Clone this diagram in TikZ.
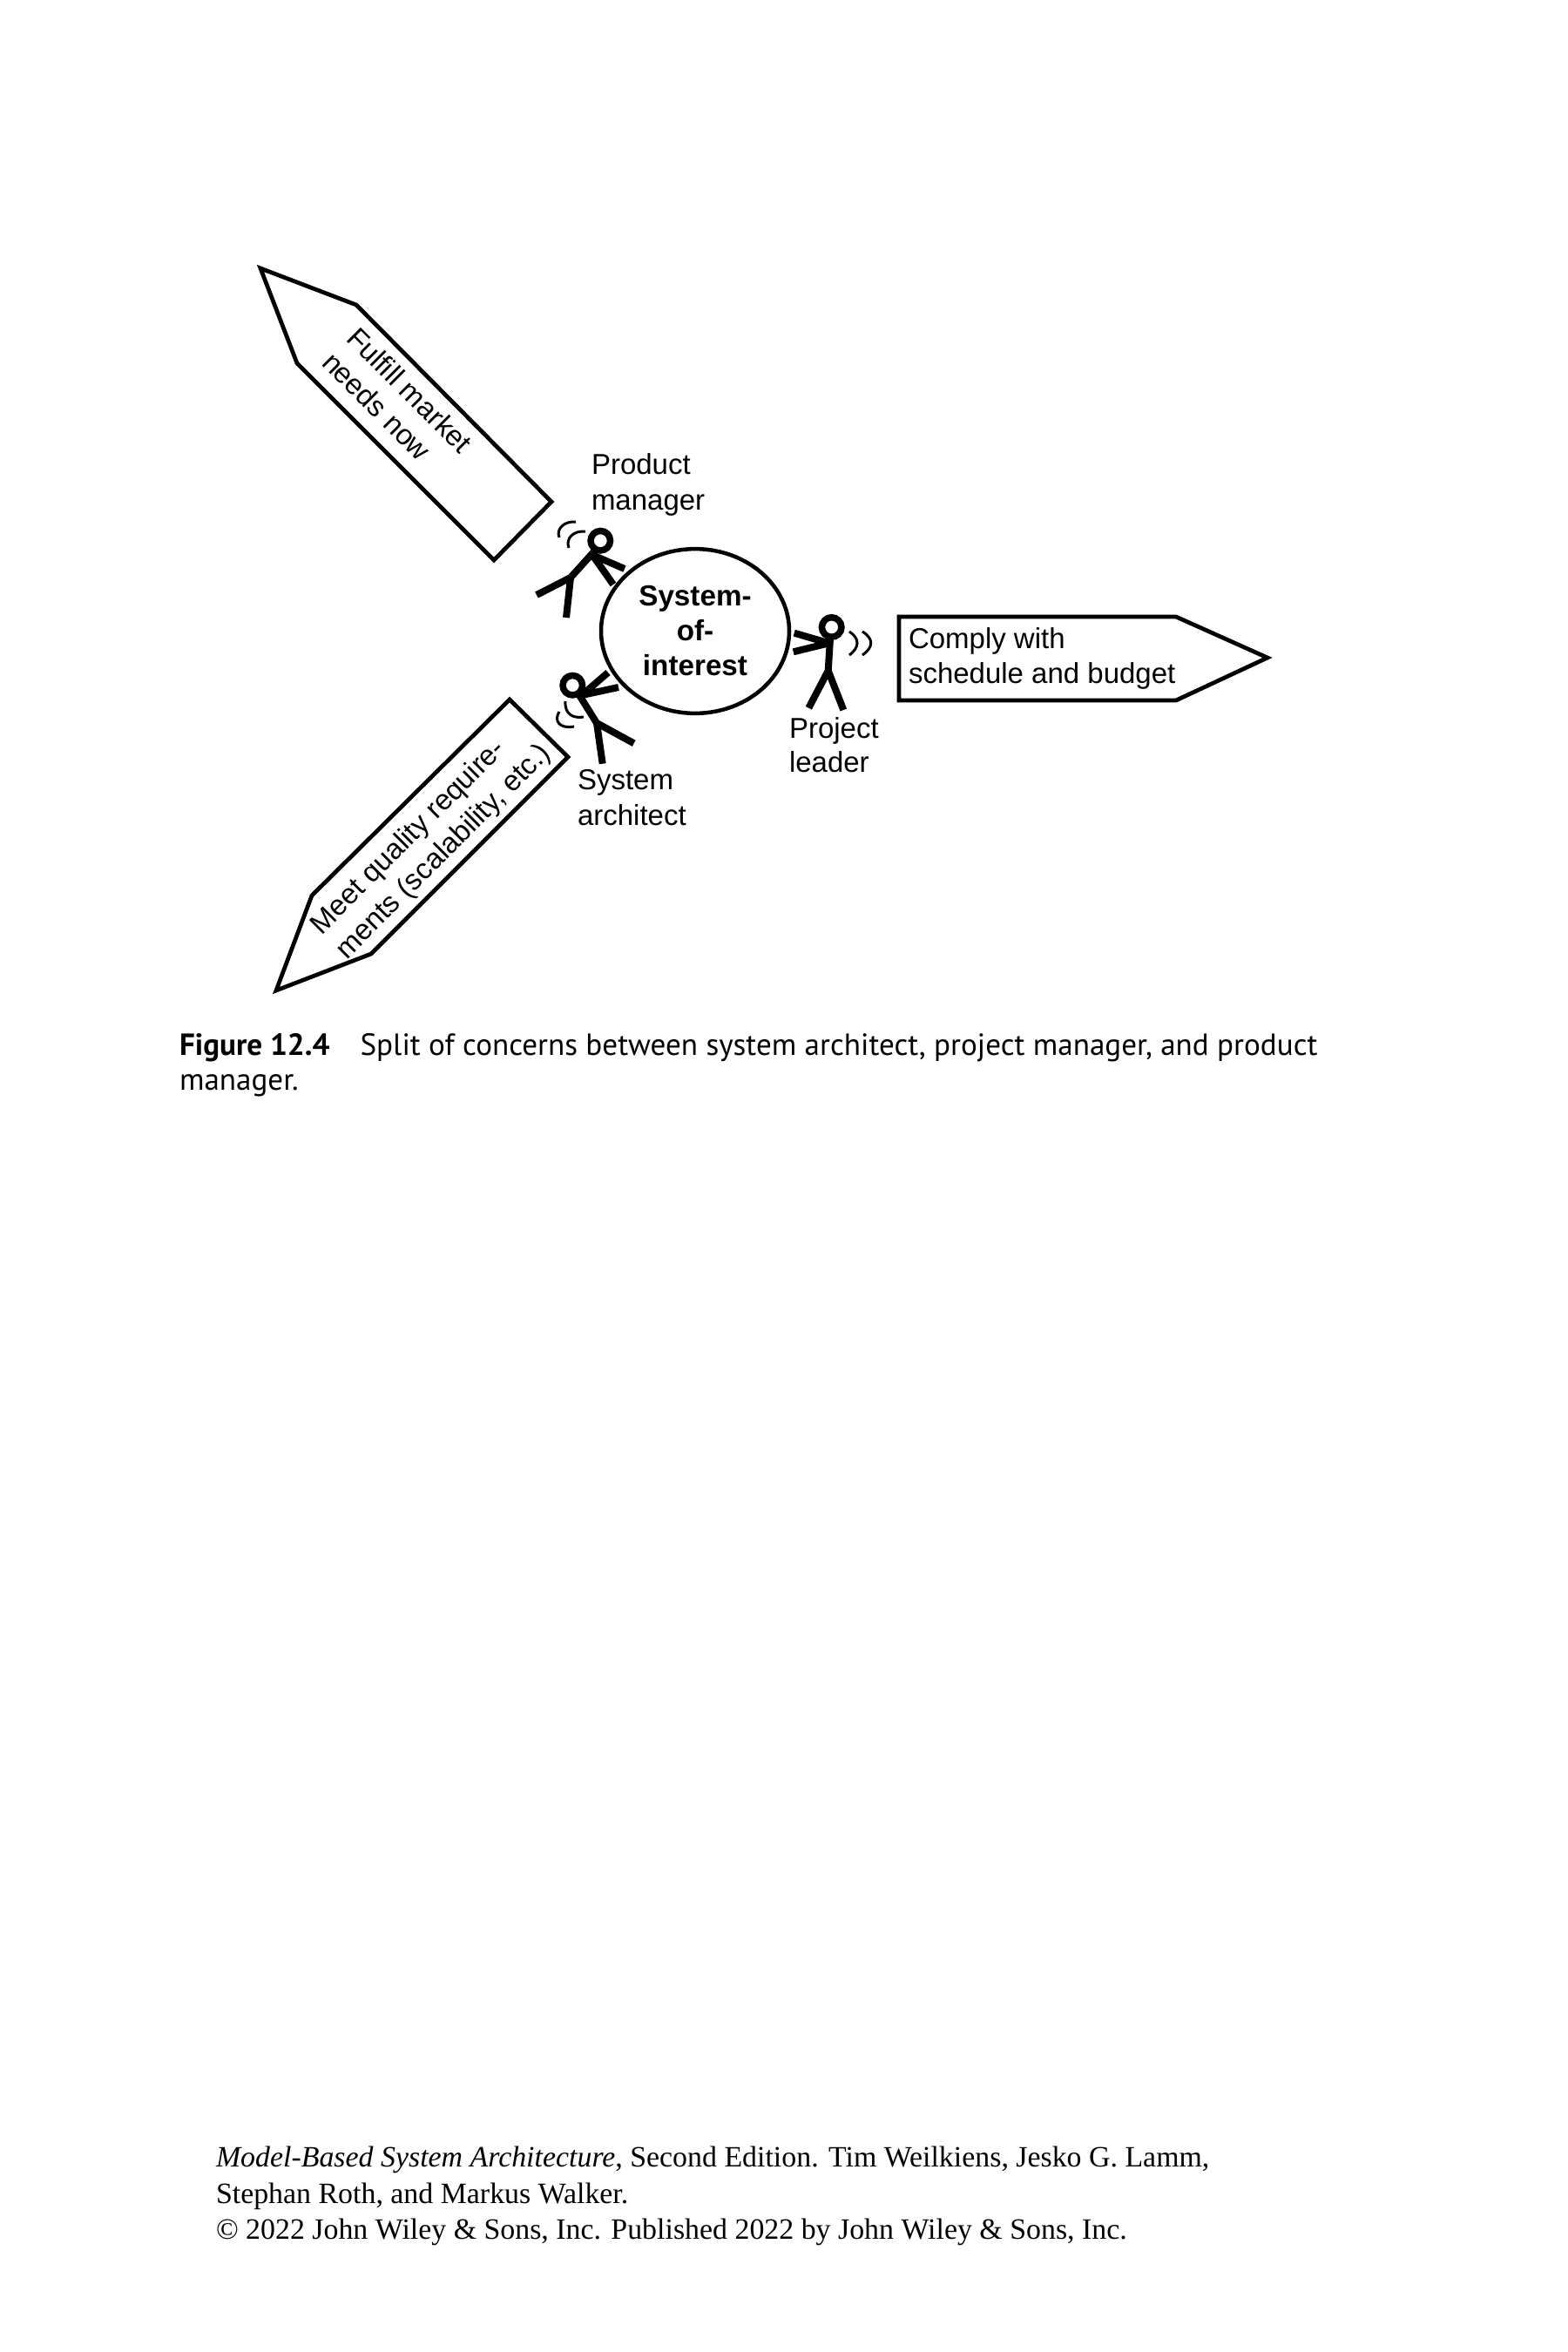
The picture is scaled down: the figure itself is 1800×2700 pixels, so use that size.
\documentclass[tikz,border=0pt]{standalone}
\usetikzlibrary{shapes.geometric}
\usepackage{fontspec}
\setmainfont{Liberation Sans}
\newfontfamily\capfont{PT Sans}
\newfontfamily\footfont{Liberation Serif}
\tikzset{
  lbl/.style={anchor=base west,inner sep=0pt,outer sep=0pt,font=\fontsize{13.2pt}{16pt}\selectfont},
  boldlbl/.style={anchor=base,inner sep=0pt,outer sep=0pt,font=\fontsize{13.3pt}{16pt}\selectfont\bfseries},
  captext/.style={anchor=base west,inner sep=0pt,outer sep=0pt,font=\fontsize{14.05pt}{16pt}\selectfont\capfont},
  foottext/.style={anchor=base west,inner sep=0pt,outer sep=0pt,font=\fontsize{13.55pt}{16pt}\selectfont\footfont},
  pen/.style={line width=1.9pt,line join=miter,draw=black},
  limb/.style={line width=3.2pt,line cap=butt,line join=round,draw=black},
  headring/.style={circle,draw=black,line width=3pt,minimum size=9pt,inner sep=0pt,outer sep=0pt},
  wave/.style={line width=1.2pt,draw=black}
}
\begin{document}
\begin{tikzpicture}[x=0.4pt,y=-0.4pt]
\useasboundingbox[fill=white] (0,0) rectangle (1800,2700);
% arrows
\draw[pen] (299,308) -- (409,350) -- (633,576) -- (567,643) -- (341,417) -- cycle;
\draw[pen] (585,803) -- (652,869) -- (426,1095) -- (317,1137) -- (358,1028) -- cycle;
\draw[pen] (1032,708) -- (1350,708) -- (1455,755) -- (1350,804) -- (1032,804) -- cycle;
% system
\node[ellipse,draw=black,line width=1.8pt,minimum width=86.4pt,minimum height=75.5pt,inner sep=0pt] (soi) at (798,724.5) {};
\node[boldlbl] (t1) at (798,695) {System-};
\node[boldlbl] (t2) at (798,735) {of-};
\node[boldlbl] (t3) at (798,775) {interest};
% product manager
\node[headring] (h1) at (689.3,620.7) {};
\draw[limb] (683,632) -- (655,663) -- (616,683);
\draw[limb] (655,663) -- (650,709);
\draw[limb] (717,653) -- (680,637) -- (704,671);
\draw[wave] (642,617) .. controls (638,607) and (648,598) .. (661,599);
\draw[wave] (653,629) .. controls (649,618) and (658,609) .. (672,610);
% system architect
\node[headring] (h2) at (657.3,786.7) {};
\draw[limb] (665,798) -- (685,830) -- (727.7,853.3);
\draw[limb] (685,830) -- (691.7,876.7);
\draw[limb] (698,772) -- (668,798) -- (710,789);
\draw[wave] (649,805) .. controls (648,820) and (658,825) .. (670,823);
\draw[wave] (642,817) .. controls (635,828) and (643,837) .. (659,834);
% project leader
\node[headring] (h3) at (954.7,720) {};
\draw[limb] (953,733) -- (950.7,770) -- (928.3,812.7);
\draw[limb] (950.7,770) -- (968.3,815);
\draw[limb] (911.7,726.7) -- (951.7,738.3) -- (910.7,748.3);
\draw[wave] (975,725) .. controls (987,733) and (987,743) .. (975,752);
\draw[wave] (990,725) .. controls (1003,733) and (1003,743) .. (990,752);
% labels
\node[lbl] (pm1) at (679,544) {Product};
\node[lbl] (pm2) at (679,585) {manager};
\node[lbl] (sa1) at (663,906) {System};
\node[lbl] (sa2) at (663,947) {architect};
\node[lbl] (pl1) at (906,847) {Project};
\node[lbl] (pl2) at (906,886) {leader};
\node[lbl] (c1) at (1043,744) {Comply with};
\node[lbl] (c2) at (1043,784) {schedule and budget};
\node[lbl,rotate=-45] (f1) at (396,390) {Fulfill market};
\node[lbl,rotate=-45] (f2) at (368,418) {needs now};
\node[lbl,rotate=45] (m1) at (369,1074) {Meet quality require-};
\node[lbl,rotate=45] (m2) at (398,1102) {ments (scalability, etc.)};
% caption
\node[captext] (cap1) at (206,1211) {{\bfseries Figure 12.4}\hspace{1em}Split of concerns between system architect, project manager, and product};
\node[captext] (cap2) at (206,1251) {manager.};
% footer
\node[foottext] (b1) at (248,2487) {{\itshape Model-Based System Architecture}, Second Edition. Tim Weilkiens, Jesko G. Lamm,};
\node[foottext] (b2) at (248,2529) {Stephan Roth, and Markus Walker.};
\node[foottext] (b3) at (248,2570) {© 2022 John Wiley \& Sons, Inc. Published 2022 by John Wiley \& Sons, Inc.};
\end{tikzpicture}
\end{document}
